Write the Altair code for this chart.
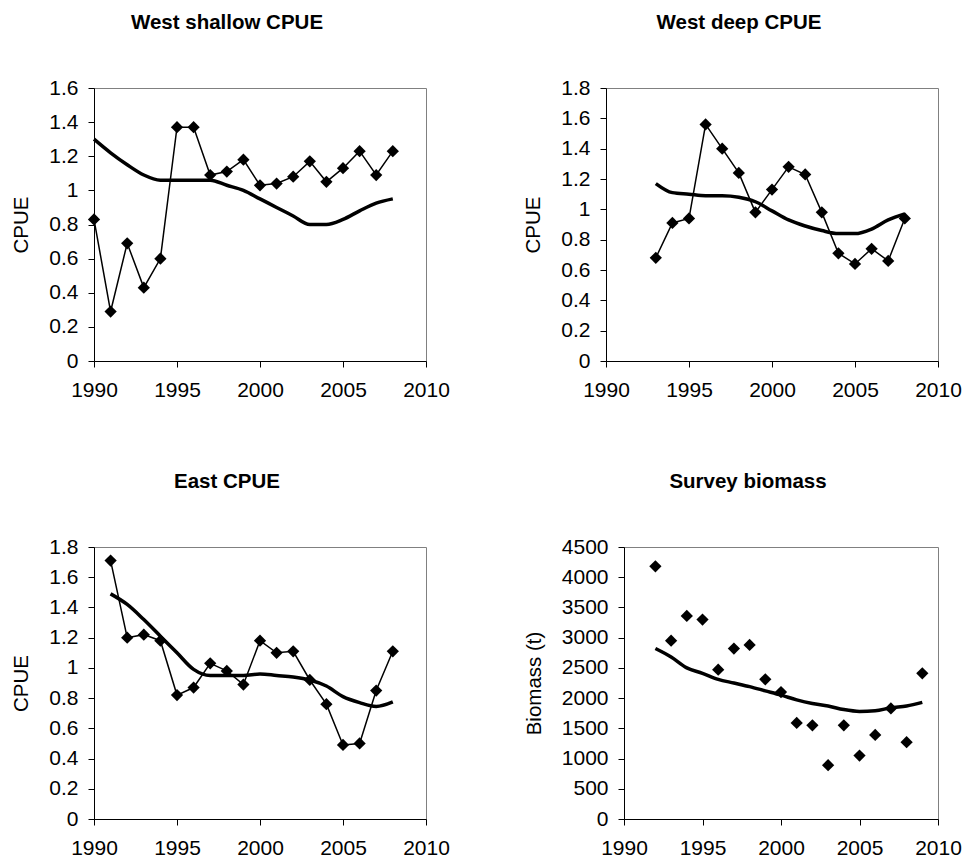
import altair as alt
import pandas as pd

FONT = "Liberation Sans"

# West shallow CPUE
ws_years = list(range(1990, 2009))
ws_obs = [0.83, 0.29, 0.69, 0.43, 0.60, 1.37, 1.37, 1.09, 1.11, 1.18,
          1.03, 1.04, 1.08, 1.17, 1.05, 1.13, 1.23, 1.09, 1.23]
ws_fit = [1.30, 1.22, 1.15, 1.09, 1.06, 1.06, 1.06, 1.06, 1.03, 1.00,
          0.95, 0.90, 0.85, 0.80, 0.80, 0.83, 0.88, 0.925, 0.95]

# West deep CPUE
wd_years = list(range(1993, 2009))
wd_obs = [0.68, 0.91, 0.94, 1.56, 1.40, 1.24, 0.98, 1.13, 1.28, 1.23,
          0.98, 0.71, 0.64, 0.74, 0.66, 0.94]
wd_fit = [1.17, 1.11, 1.10, 1.09, 1.09, 1.08, 1.05, 0.99, 0.93, 0.89,
          0.86, 0.84, 0.84, 0.87, 0.93, 0.97]

# East CPUE
e_years = list(range(1991, 2009))
e_obs = [1.71, 1.20, 1.22, 1.18, 0.82, 0.87, 1.03, 0.98, 0.89, 1.18,
         1.10, 1.11, 0.92, 0.76, 0.49, 0.50, 0.85, 1.11]
e_fit = [1.49, 1.42, 1.32, 1.21, 1.10, 0.99, 0.95, 0.95, 0.95, 0.96,
         0.95, 0.94, 0.92, 0.88, 0.81, 0.77, 0.745, 0.775]

# Survey biomass (t)
sb_years = list(range(1992, 2010))
sb_obs = [4180, 2950, 3360, 3300, 2470, 2820, 2880, 2310, 2100, 1590,
          1550, 890, 1550, 1050, 1390, 1830, 1270, 2410]
sb_fit = [2820, 2680, 2500, 2410, 2310, 2250, 2190, 2120, 2050, 1970,
          1910, 1870, 1810, 1780, 1790, 1840, 1870, 1930]

year_ticks = [1990, 1995, 2000, 2005, 2010]
cpue_ticks_16 = [0, 0.2, 0.4, 0.6, 0.8, 1.0, 1.2, 1.4, 1.6]
cpue_ticks_18 = [0, 0.2, 0.4, 0.6, 0.8, 1.0, 1.2, 1.4, 1.6, 1.8]
biomass_ticks = [0, 500, 1000, 1500, 2000, 2500, 3000, 3500, 4000, 4500]


def panel(years, obs, fit, title, yticks, ytitle, yfmt, width, height,
          connect=True):
    obs_df = pd.DataFrame({"year": years, "value": obs})
    fit_df = pd.DataFrame({"year": years, "value": fit})
    x = alt.X("year:Q",
              scale=alt.Scale(domain=[1990, 2010], nice=False, zero=False),
              axis=alt.Axis(values=year_ticks, format="d", title=None,
                            labelPadding=12, labelFlush=False,
                            labelOverlap=False))
    y = alt.Y("value:Q",
              scale=alt.Scale(domain=[0, yticks[-1]], nice=False),
              axis=alt.Axis(values=yticks, format=yfmt, title=ytitle,
                            labelOverlap=False))
    layers = []
    if connect:
        layers.append(alt.Chart(obs_df).mark_line(
            color="black", strokeWidth=1.5).encode(x=x, y=y))
    layers.append(alt.Chart(fit_df).mark_line(
        color="black", strokeWidth=3.5, interpolate="monotone").encode(x=x, y=y))
    layers.append(alt.Chart(obs_df).mark_point(
        shape="diamond", filled=True, size=150, color="black",
        opacity=1).encode(x=x, y=y))
    return alt.layer(*layers).properties(
        width=width, height=height,
        title=alt.TitleParams(text=title, font=FONT, fontSize=20.5,
                              fontWeight="bold", color="black",
                              anchor="middle", frame="group",
                              baseline="alphabetic", offset=28, dx=-33),
    )


p1 = panel(ws_years, ws_obs, ws_fit, "West shallow CPUE", cpue_ticks_16,
           "CPUE", ".1~f", 332, 273)
p2 = panel(wd_years, wd_obs, wd_fit, "West deep CPUE", cpue_ticks_18,
           "CPUE", ".1~f", 332, 273)
p3 = panel(e_years, e_obs, e_fit, "East CPUE", cpue_ticks_18,
           "CPUE", ".1~f", 332, 272)
p4 = panel(sb_years, sb_obs, sb_fit, "Survey biomass", biomass_ticks,
           "Biomass (t)", "d", 314, 272, connect=False)

top = alt.hconcat(p1, p2, spacing=180, bounds="flush")
bottom = alt.hconcat(p3, p4, spacing=198, bounds="flush")

chart = alt.vconcat(top, bottom, spacing=70).properties(
    padding={"left": 11, "top": 12, "right": 0, "bottom": 0},
    background="white",
).configure_view(
    stroke="#808080", strokeWidth=1
).configure_axis(
    labelFont=FONT, labelFontSize=21, labelColor="black",
    titleFont=FONT, titleFontSize=20.5, titleFontWeight="normal",
    titleColor="black", titlePadding=17,
    domainColor="black", domainWidth=1,
    tickColor="black", tickWidth=1, tickSize=6,
    labelPadding=10, grid=False,
)

chart.save("out.html", embed_options={"renderer": "svg", "actions": False})
